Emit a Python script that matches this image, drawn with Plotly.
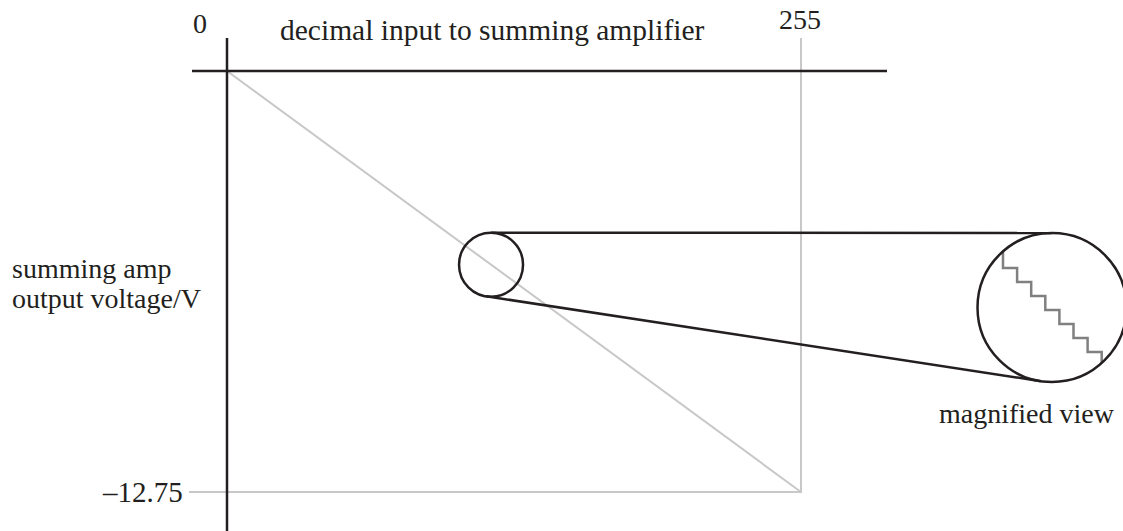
import math
import plotly.graph_objects as go

# ---------------- data ----------------
CODE_MIN, CODE_MAX = 0, 255            # decimal input range
VOLT_MIN, VOLT_MAX = 0.0, -12.75       # summing amp output range (V)
LINE_CODES = [0, 255]
LINE_VOLTS = [0.0, -12.75]
X_TICK_LABELS = ["0", "255"]
Y_TICK_LABEL = "\u201312.75"
ZOOM_CODE = 117.3                      # code at the centre of the magnified region
ZOOM_VOLT = -5.865                     # output at that code
# magnified staircase (code, volts)
MAG_CODES = [114, 115, 116, 117, 118, 119, 120, 121, 121]
MAG_VOLTS = [-5.643, -5.70, -5.75, -5.80, -5.85, -5.90, -5.95, -6.00, -6.04]

# ---------------- layout (pixels) ----------------
W, H = 1123, 531
X0_PX, X1_PX = 227, 801        # pixel of code 0 and 255
Y0_PX, Y1_PX = 71, 492         # pixel of 0 V and -12.75 V
sx = (X1_PX - X0_PX) / (CODE_MAX - CODE_MIN)
sy = (Y1_PX - Y0_PX) / (VOLT_MIN - VOLT_MAX)
x_range = [CODE_MIN - X0_PX / sx, CODE_MIN + (W - X0_PX) / sx]
y_range = [VOLT_MIN - (H - Y0_PX) / sy, VOLT_MIN + Y0_PX / sy]

# magnified inset mapping
M_CODE0, M_XPX0, M_SX = 114, 1003, 14.1
M_VOLT0, M_YPX0, M_SY = -5.70, 268, 280.0
x2_range = [M_CODE0 - M_XPX0 / M_SX, M_CODE0 + (W - M_XPX0) / M_SX]
y2_range = [M_VOLT0 - (H - M_YPX0) / M_SY, M_VOLT0 + M_YPX0 / M_SY]

BLACK = "#231f20"
GRAY = "#c8c8c8"
STAIR = "#808080"
FAMILY = "Liberation Serif, Times New Roman, serif"
FONT = dict(family=FAMILY, size=28, color=BLACK)


def px(x, y):
    return x / W, 1 - y / H


# circle geometry (pixels)
c1 = (X0_PX + ZOOM_CODE * sx, Y0_PX + (VOLT_MIN - ZOOM_VOLT) * sy)
r1 = 32.0
c2 = (1052.0, 307.5)
r2 = 74.5

dx, dy = c2[0] - c1[0], c2[1] - c1[1]
L = math.hypot(dx, dy)
theta = math.atan2(dy, dx)
alpha = math.asin((r2 - r1) / L)

shapes = []
for sgn in (-1, 1):
    phi = theta + sgn * (math.pi / 2 + alpha)
    p1 = (c1[0] + r1 * math.cos(phi), c1[1] + r1 * math.sin(phi))
    p2 = (c2[0] + r2 * math.cos(phi), c2[1] + r2 * math.sin(phi))
    a, b = px(*p1)
    c, d = px(*p2)
    shapes.append(dict(type="line", xref="paper", yref="paper", x0=a, y0=b, x1=c, y1=d,
                       line=dict(color=BLACK, width=2.5)))

for (cx, cy), r in ((c1, r1), (c2, r2)):
    a, b = px(cx - r, cy + r)
    c, d = px(cx + r, cy - r)
    shapes.append(dict(type="circle", xref="paper", yref="paper", x0=a, y0=b, x1=c, y1=d,
                       line=dict(color=BLACK, width=2.5), fillcolor="rgba(0,0,0,0)"))

# black axes
a, b = px(X0_PX, 38)
c, d = px(X0_PX, H + 2)
shapes.append(dict(type="line", xref="paper", yref="paper", x0=a, y0=b, x1=c, y1=d,
                   line=dict(color=BLACK, width=2.5)))
a, b = px(192, Y0_PX)
c, d = px(887, Y0_PX)
shapes.append(dict(type="line", xref="paper", yref="paper", x0=a, y0=b, x1=c, y1=d,
                   line=dict(color=BLACK, width=2.5)))

fig = go.Figure()
# main transfer line
fig.add_trace(go.Scatter(x=LINE_CODES, y=LINE_VOLTS, mode="lines",
                         line=dict(color=GRAY, width=2), hoverinfo="skip"))
# guide lines to the end point
top_volt = VOLT_MIN + (Y0_PX - 38) / sy
left_code = CODE_MIN - (X0_PX - 189) / sx
fig.add_trace(go.Scatter(x=[left_code, LINE_CODES[1], LINE_CODES[1]],
                         y=[LINE_VOLTS[1], LINE_VOLTS[1], top_volt], mode="lines",
                         line=dict(color=GRAY, width=2), hoverinfo="skip"))
# magnified staircase
fig.add_trace(go.Scatter(x=MAG_CODES, y=MAG_VOLTS, mode="lines", line_shape="vh",
                         line=dict(color=STAIR, width=2.5), xaxis="x2", yaxis="y2",
                         hoverinfo="skip"))

ann = []


def add_text(text, x, y, xanchor="center", size=28):
    a, b = px(x, y)
    ann.append(dict(text=text, x=a, y=b, xref="paper", yref="paper", showarrow=False,
                    xanchor=xanchor, yanchor="middle",
                    font=dict(family=FAMILY, size=size, color=BLACK)))


add_text(X_TICK_LABELS[0], 200, 23)
add_text(X_TICK_LABELS[1], 800, 20)
add_text("decimal input to summing amplifier", 492, 30, size=29.5)
add_text(Y_TICK_LABEL, 185, 492, xanchor="right", size=29)
add_text("summing amp", 10, 268, xanchor="left")
add_text("output voltage/V", 10, 298, xanchor="left")
add_text("magnified view", 1027, 413)

fig.update_layout(
    width=W, height=H, margin=dict(l=0, r=0, t=0, b=0),
    paper_bgcolor="white", plot_bgcolor="white", showlegend=False,
    xaxis=dict(range=x_range, visible=False, domain=[0, 1]),
    yaxis=dict(range=y_range, visible=False, domain=[0, 1]),
    xaxis2=dict(range=x2_range, visible=False, overlaying="x", anchor="y2", domain=[0, 1]),
    yaxis2=dict(range=y2_range, visible=False, overlaying="y", anchor="x2", domain=[0, 1]),
    shapes=shapes, annotations=ann,
)

fig.write_html("out.html", config={"displayModeBar": False},
               post_script="document.body.style.margin='0';document.body.style.overflow='hidden';")
